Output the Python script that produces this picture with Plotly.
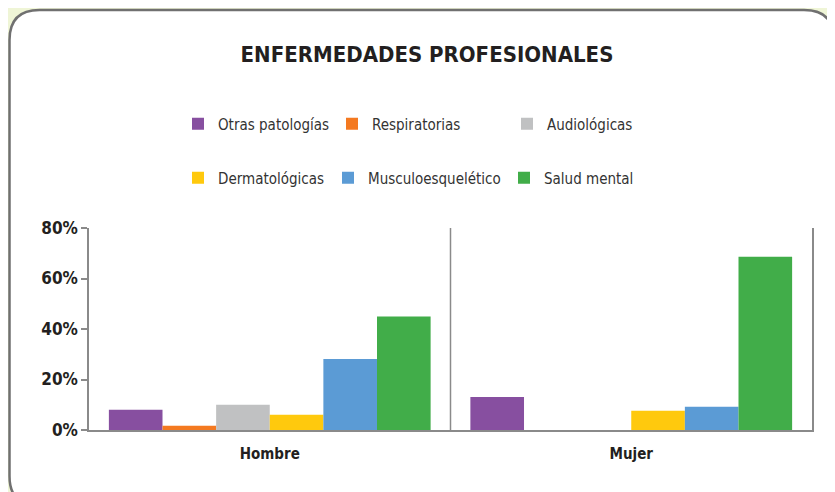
import plotly.graph_objects as go

categories = ["Hombre", "Mujer"]
series_names = ["Otras patologías", "Respiratorias", "Audiológicas",
                "Dermatológicas", "Musculoesquelético", "Salud mental"]
otras = [8.0, 13.1]
respiratorias = [1.7, 0]
audiologicas = [10.0, 0]
dermatologicas = [6.0, 7.6]
musculo = [28.1, 9.2]
salud_mental = [45.0, 68.6]
y_ticks = [0, 20, 40, 60, 80]

values = [otras, respiratorias, audiologicas, dermatologicas, musculo, salud_mental]
colors = ["#874fa0", "#f47920", "#c0c1c2", "#ffc90d", "#5b9bd5", "#41ad49"]
legend_ids = ["legend", "legend", "legend", "legend2", "legend2", "legend2"]
legend_widths = [109, 130, 100, 105, 131, 100]

# the page body adds an 8px margin, so the figure is drawn 8px in from the window
OFF = 8
W, H = 835 - OFF, 492 - OFF
L, R, T, B = 89 - OFF, 23, 228 - OFF, 62
PW, PH = W - L - R, H - T - B

FONT = "DejaVu Sans Condensed, Liberation Sans Narrow, Arial Narrow, Liberation Sans, sans-serif"


def px_x(x):
    # screen pixel -> paper fraction
    return (x - OFF - L) / PW


def px_y(y):
    return (H + OFF - B - y) / PH


fig = go.Figure()
for name, vals, col, lg, lw in zip(series_names, values, colors, legend_ids, legend_widths):
    fig.add_bar(x=categories, y=vals, name=name, marker_color=col,
                marker_line_width=0, legend=lg, legendwidth=lw)

# rounded card behind the chart
x0, x1, y0, y1, r = 9.5, 834, 10, 506, 30
path = (
    f"M {px_x(x0 + r)},{px_y(y0)} L {px_x(x1 - r)},{px_y(y0)} "
    f"Q {px_x(x1)},{px_y(y0)} {px_x(x1)},{px_y(y0 + r)} "
    f"L {px_x(x1)},{px_y(y1 - r)} Q {px_x(x1)},{px_y(y1)} {px_x(x1 - r)},{px_y(y1)} "
    f"L {px_x(x0 + r)},{px_y(y1)} Q {px_x(x0)},{px_y(y1)} {px_x(x0)},{px_y(y1 - r)} "
    f"L {px_x(x0)},{px_y(y0 + r)} Q {px_x(x0)},{px_y(y0)} {px_x(x0 + r)},{px_y(y0)} Z"
)
fig.add_shape(type="path", path=path, xref="paper", yref="paper",
              fillcolor="white", line=dict(color="#707070", width=2.5), layer="below")

# divider between the two groups
fig.add_shape(type="line", x0=0.5, x1=0.5, y0=0, y1=1, xref="x", yref="paper",
              line=dict(color="#8a8a8a", width=1.5))

legend_common = dict(orientation="h", xanchor="left", yanchor="middle",
                      bgcolor="rgba(0,0,0,0)", font=dict(family=FONT, size=15, color="#333333"),
                      entrywidthmode="pixels", itemclick=False, itemdoubleclick=False)

fig.update_layout(
    width=W, height=H,
    margin=dict(l=L, r=R, t=T, b=B),
    paper_bgcolor="#eff5d6",
    plot_bgcolor="rgba(0,0,0,0)",
    barmode="group",
    bargap=0.11,
    bargroupgap=0,
    showlegend=True,
    title=dict(text="<b>ENFERMEDADES PROFESIONALES</b>", x=(427 - OFF) / W, xanchor="center",
               y=1 - (54 - OFF) / H, yanchor="middle",
               font=dict(family=FONT, size=22, color="#231f20")),
    legend=dict(x=px_x(178), y=px_y(124), **legend_common),
    legend2=dict(x=px_x(178), y=px_y(178), **legend_common),
    xaxis=dict(showline=True, linecolor="#8a8a8a", linewidth=1.5, ticks="",
               ticklabelstandoff=9,
               tickfont=dict(family=FONT, size=15, color="#231f20"),
               tickprefix="<b>", ticksuffix="</b>"),
    yaxis=dict(range=[0, 80], tickvals=y_ticks, ticktext=[f"<b>{v}%</b>" for v in y_ticks],
               showgrid=False, zeroline=False, showline=True, mirror=True,
               linecolor="#8a8a8a", linewidth=1.5, ticks="outside", ticklen=6,
               tickcolor="#8a8a8a", tickwidth=1.5,
               tickfont=dict(family=FONT, size=17, color="#231f20")),
)

fig.write_html("out.html")
